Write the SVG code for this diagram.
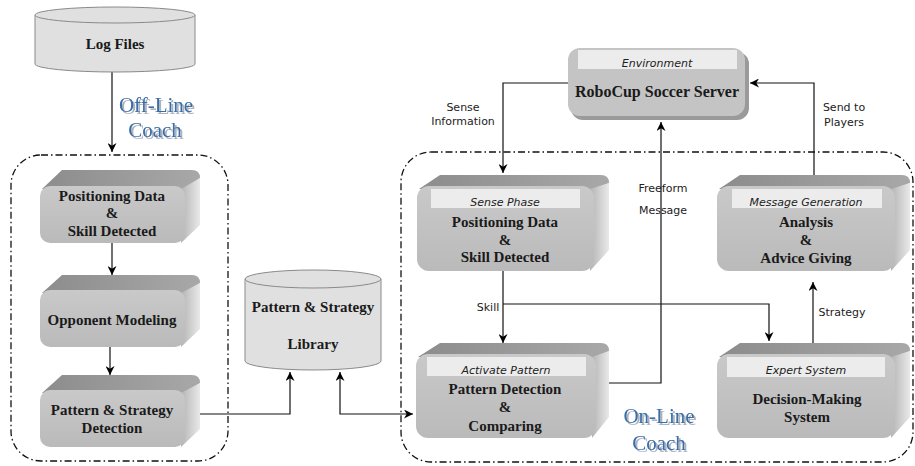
<svg xmlns="http://www.w3.org/2000/svg" width="915" height="466" viewBox="0 0 915 466">
<defs>
<linearGradient id="gTop" x1="0" y1="0" x2="1" y2="0"><stop offset="0" stop-color="#8c8c8c"/><stop offset="1" stop-color="#a8a8a8"/></linearGradient>
<linearGradient id="gFront" x1="0" y1="0" x2="0" y2="1"><stop offset="0" stop-color="#c9c9c9"/><stop offset="1" stop-color="#bababa"/></linearGradient>
<linearGradient id="gRight" x1="0" y1="0" x2="1" y2="0"><stop offset="0" stop-color="#b4b4b4"/><stop offset="1" stop-color="#e9e9e9"/></linearGradient>
<marker id="arr" viewBox="0 0 10 10" refX="10" refY="5" markerWidth="9" markerHeight="9" orient="auto-start-reverse" markerUnits="userSpaceOnUse"><path d="M0,0 L10,5 L0,10 L3,5 Z" fill="#000"/></marker>
<filter id="sh" x="-10%" y="-20%" width="130%" height="150%">
<feFlood flood-color="#aab3c0" result="c"/>
<feComposite in="c" in2="SourceAlpha" operator="in" result="s"/>
<feOffset in="s" dx="2" dy="2" result="o"/>
<feMerge><feMergeNode in="o"/><feMergeNode in="SourceGraphic"/></feMerge>
</filter>
</defs>
<style>
.top{fill:url(#gTop);}
.front{fill:url(#gFront);}
.right{fill:url(#gRight);}
.hdr{fill:#ececec;}
.cyl{fill:#e0e0e0;stroke:#8a8a8a;stroke-width:1;}
.lbl{font-family:"Liberation Serif",serif;font-weight:bold;font-size:15px;fill:#1a1a1a;text-anchor:middle;}
.it{font-family:"DejaVu Sans",sans-serif;font-style:italic;font-size:11px;fill:#222;text-anchor:middle;}
.sans{font-family:"DejaVu Sans",sans-serif;font-size:11px;fill:#222;text-anchor:middle;}
.coach{font-family:"Liberation Serif",serif;font-size:21px;fill:#3b6da6;text-anchor:middle;filter:url(#sh);}
.cont{fill:none;stroke:#111;stroke-width:1.3;stroke-dasharray:7,3,1.5,3;}
.conn{fill:none;stroke:#111;stroke-width:1.2;}
</style>
<rect width="915" height="466" fill="#fff"/>

<g id="containers">
<rect class="cont" x="11" y="155" width="217" height="306" rx="30"/>
<rect class="cont" x="401" y="152" width="512" height="310" rx="30"/>
</g>

<g id="coach-labels">
<text class="coach" x="156" y="112">Off-Line</text>
<text class="coach" x="155" y="137">Coach</text>
<text class="coach" x="659" y="423">On-Line</text>
<text class="coach" x="659" y="450">Coach</text>
</g>

<g id="connectors">
<path class="conn" d="M112,72 L112,152" marker-end="url(#arr)"/>
<path class="conn" d="M112,243 L112,275" marker-end="url(#arr)"/>
<path class="conn" d="M110,347 L110,375" marker-end="url(#arr)"/>
<path class="conn" d="M200,414 L290,414 L290,372" marker-end="url(#arr)"/>
<path class="conn" d="M340,372 L340,414 L413,414" marker-start="url(#arr)" marker-end="url(#arr)"/>
<path class="conn" d="M568,83 L503,83 L503,173" marker-end="url(#arr)"/>
<path class="conn" d="M814,175 L814,83 L750,83" marker-end="url(#arr)"/>
<path class="conn" d="M596,383 L661,383 L661,122" marker-end="url(#arr)"/>
<path class="conn" d="M503,271 L503,343" marker-end="url(#arr)"/>
<path class="conn" d="M503,304 L769,304 L769,341" marker-end="url(#arr)"/>
<path class="conn" d="M813,343 L813,282" marker-end="url(#arr)"/>
<text class="sans" x="463" y="111">Sense</text>
<text class="sans" x="463" y="125">Information</text>
<text class="sans" x="844" y="111">Send to</text>
<text class="sans" x="844" y="126">Players</text>
<text class="sans" x="663" y="192">Freeform</text>
<text class="sans" x="663" y="214">Message</text>
<text class="sans" x="488" y="311">Skill</text>
<text class="sans" x="842" y="316">Strategy</text>
</g>

<g id="log-files">
<path class="cyl" d="M35,15 L35,64 A80,8 0 0 0 195,64 L195,15"/>
<ellipse class="cyl" cx="115" cy="15" rx="80" ry="8"/>
<text class="lbl" x="115" y="49">Log Files</text>
</g>

<g id="library">
<path class="cyl" d="M245,279 L245,361 A68,9 0 0 0 381,361 L381,279"/>
<ellipse class="cyl" cx="313" cy="279" rx="68" ry="9"/>
<text class="lbl" x="313" y="312">Pattern &amp; Strategy</text>
<text class="lbl" x="313" y="349">Library</text>
</g>

<g id="positioning-offline">
<path class="top" d="M42,189 L62,170 L192,170 Q200,170 200,178 L185,189 Z"/>
<path class="right" d="M181,189 L200,178 L200,225 L181,243 Z"/>
<rect class="front" x="40" y="186" width="145" height="57" rx="10"/>
<text class="lbl" x="112" y="201">Positioning Data</text>
<text class="lbl" x="112" y="218">&amp;</text>
<text class="lbl" x="112" y="236">Skill Detected</text>
</g>

<g id="opponent-modeling">
<path class="top" d="M42,293 L62,275 L192,275 Q200,275 200,283 L185,293 Z"/>
<path class="right" d="M181,293 L200,283 L200,329 L181,347 Z"/>
<rect class="front" x="40" y="290" width="145" height="57" rx="10"/>
<text class="lbl" x="112" y="325">Opponent Modeling</text>
</g>

<g id="pattern-detection-offline">
<path class="top" d="M42,393 L62,375 L192,375 Q200,375 200,383 L185,393 Z"/>
<path class="right" d="M181,393 L200,383 L200,429 L181,447 Z"/>
<rect class="front" x="40" y="390" width="145" height="57" rx="10"/>
<text class="lbl" x="112" y="415">Pattern &amp; Strategy</text>
<text class="lbl" x="112" y="433">Detection</text>
</g>

<g id="robocup">
<rect x="571" y="52" width="178" height="68" rx="12" fill="#9a9a9a"/>
<rect x="568" y="48" width="177" height="68" rx="12" fill="#c4c4c4"/>
<rect class="hdr" x="578" y="50" width="159" height="19"/>
<text class="it" x="657" y="67">Environment</text>
<text class="lbl" x="657" y="97" style="font-size:16px">RoboCup Soccer Server</text>
</g>

<g id="sense-phase">
<path class="top" d="M419,189 L440,175 L601,175 Q609,175 609,183 L594,189 Z"/>
<path class="right" d="M590,189 L609,183 L609,250 L590,271 Z"/>
<rect class="front" x="417" y="186" width="177" height="85" rx="12"/>
<rect class="hdr" x="431" y="189" width="149" height="19"/>
<text class="it" x="505" y="206">Sense Phase</text>
<text class="lbl" x="505" y="227">Positioning Data</text>
<text class="lbl" x="505" y="245">&amp;</text>
<text class="lbl" x="505" y="262">Skill Detected</text>
</g>

<g id="activate-pattern">
<path class="top" d="M418,357 L440,343 L601,343 Q609,343 609,351 L596,357 Z"/>
<path class="right" d="M592,357 L609,351 L609,417 L592,438 Z"/>
<rect class="front" x="416" y="354" width="180" height="84" rx="12"/>
<rect class="hdr" x="427" y="357" width="159" height="19"/>
<text class="it" x="506" y="374">Activate Pattern</text>
<text class="lbl" x="505" y="394">Pattern Detection</text>
<text class="lbl" x="505" y="412">&amp;</text>
<text class="lbl" x="505" y="431">Comparing</text>
</g>

<g id="message-generation">
<path class="top" d="M719,189 L740,175 L902,175 Q910,175 910,183 L895,189 Z"/>
<path class="right" d="M891,189 L910,183 L910,250 L891,271 Z"/>
<rect class="front" x="717" y="186" width="178" height="85" rx="12"/>
<rect class="hdr" x="732" y="189" width="150" height="19"/>
<text class="it" x="806" y="206">Message Generation</text>
<text class="lbl" x="806" y="227">Analysis</text>
<text class="lbl" x="806" y="245">&amp;</text>
<text class="lbl" x="806" y="263">Advice Giving</text>
</g>

<g id="expert-system">
<path class="top" d="M719,357 L740,343 L902,343 Q910,343 910,351 L895,357 Z"/>
<path class="right" d="M891,357 L910,351 L910,417 L891,438 Z"/>
<rect class="front" x="717" y="354" width="178" height="84" rx="12"/>
<rect class="hdr" x="727" y="357" width="158" height="20"/>
<text class="it" x="806" y="374">Expert System</text>
<text class="lbl" x="807" y="404">Decision-Making</text>
<text class="lbl" x="807" y="422">System</text>
</g>
</svg>
